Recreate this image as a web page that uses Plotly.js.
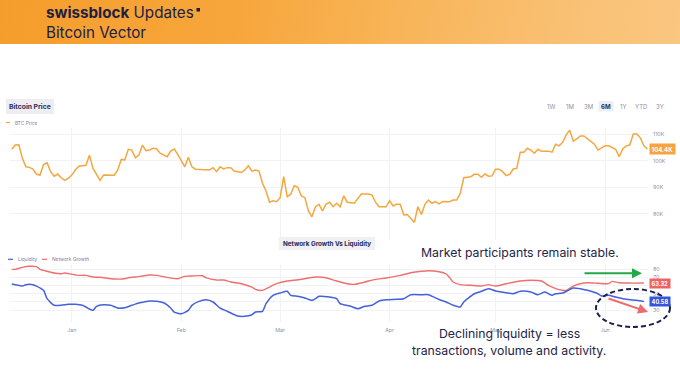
<!DOCTYPE html>
<html>
<head>
<meta charset="utf-8">
<script src="https://cdn.plot.ly/plotly-3.0.1.min.js"></script>
<style>
  html, body { margin: 0; padding: 0; background: #ffffff; }
  #chart { width: 680px; height: 383px; position: relative;
    background: linear-gradient(100deg, #f59d2c 0%, #f7a63c 35%, #f8b559 60%, #f9c176 85%, #fac680 100%) top left / 680px 44px no-repeat, #ffffff; }
</style>
</head>
<body>
<div id="chart"></div>
<script>
// ---------------- DATA ----------------
const priceDates = ['2024-12-15','2024-12-16','2024-12-17','2024-12-18','2024-12-19','2024-12-20','2024-12-21','2024-12-22','2024-12-23','2024-12-24','2024-12-25','2024-12-26','2024-12-27','2024-12-28','2024-12-29','2024-12-30','2024-12-31',
'2025-01-01','2025-01-02','2025-01-03','2025-01-05','2025-01-06','2025-01-07','2025-01-08','2025-01-09','2025-01-10','2025-01-13','2025-01-14','2025-01-15','2025-01-16','2025-01-17','2025-01-18','2025-01-19','2025-01-20','2025-01-21','2025-01-22','2025-01-23','2025-01-24','2025-01-25','2025-01-26','2025-01-27','2025-01-28','2025-01-29','2025-01-30','2025-01-31',
'2025-02-01','2025-02-02','2025-02-03','2025-02-04','2025-02-05','2025-02-09','2025-02-10','2025-02-11','2025-02-12','2025-02-13','2025-02-14','2025-02-15','2025-02-16','2025-02-18','2025-02-19','2025-02-20','2025-02-21','2025-02-22','2025-02-23','2025-02-24','2025-02-25','2025-02-26','2025-02-27','2025-02-28',
'2025-03-01','2025-03-02','2025-03-03','2025-03-04','2025-03-05','2025-03-06','2025-03-07','2025-03-08','2025-03-09','2025-03-10','2025-03-11','2025-03-12','2025-03-13','2025-03-14','2025-03-15','2025-03-16','2025-03-17','2025-03-18','2025-03-19','2025-03-20','2025-03-22','2025-03-23','2025-03-24','2025-03-26','2025-03-27','2025-03-28','2025-03-29','2025-03-31',
'2025-04-01','2025-04-02','2025-04-03','2025-04-04','2025-04-05','2025-04-06','2025-04-07','2025-04-08','2025-04-09','2025-04-10','2025-04-11','2025-04-12','2025-04-13','2025-04-14','2025-04-15','2025-04-16','2025-04-18','2025-04-19','2025-04-20','2025-04-21','2025-04-22','2025-04-23','2025-04-24','2025-04-25','2025-04-26','2025-04-27','2025-04-28','2025-04-29','2025-04-30',
'2025-05-01','2025-05-02','2025-05-03','2025-05-04','2025-05-05','2025-05-06','2025-05-07','2025-05-08','2025-05-09','2025-05-10','2025-05-11','2025-05-12','2025-05-13','2025-05-14','2025-05-16','2025-05-17','2025-05-18','2025-05-19','2025-05-20','2025-05-21','2025-05-22','2025-05-23','2025-05-24','2025-05-25','2025-05-26','2025-05-27','2025-05-29','2025-05-30','2025-05-31',
'2025-06-01','2025-06-02','2025-06-03','2025-06-04','2025-06-05','2025-06-06','2025-06-07','2025-06-08','2025-06-09','2025-06-10','2025-06-11','2025-06-12','2025-06-13'];
const priceK = [104.3,105.9,106.0,100.9,97.7,97.5,96.9,94.9,94.6,98.6,99.2,95.9,94.2,95.0,93.6,92.6,93.4,
94.6,96.5,97.9,98.3,102.1,97.1,94.9,92.6,94.6,94.5,96.5,100.5,100.3,104.3,104.0,101.1,102.1,105.9,103.8,104.0,104.7,104.5,102.8,102.1,101.5,103.6,104.4,102.4,
99.9,97.7,101.3,97.7,96.8,96.5,97.4,95.9,97.7,96.9,97.4,97.4,96.1,95.6,96.5,98.1,96.1,96.5,96.1,91.5,88.6,84.4,84.9,84.6,
86.1,94.0,86.5,87.4,90.6,90.0,86.8,86.1,81.1,78.9,82.7,83.6,81.1,83.7,84.4,82.7,84.0,82.7,86.8,84.4,84.0,85.6,87.5,87.5,87.1,84.4,82.7,82.7,
85.0,83.0,83.6,83.6,79.6,79.8,78.3,76.8,82.7,79.8,83.6,85.2,84.0,84.6,83.8,84.7,84.6,85.2,85.2,87.7,93.6,93.7,94.0,94.9,94.9,93.8,95.0,94.2,94.3,
96.8,96.8,95.9,94.4,94.9,96.9,97.1,103.2,103.2,104.7,104.0,102.8,104.3,103.6,103.6,103.2,106.2,105.6,106.9,109.7,111.5,107.4,108.2,109.3,109.3,108.2,106.2,104.0,104.7,
105.6,105.6,105.0,104.3,101.5,104.4,105.6,105.9,110.0,110.0,108.6,105.6,104.4];

const growthDates = ['2024-12-15','2024-12-16','2024-12-18','2024-12-20','2024-12-22','2024-12-23','2024-12-25','2024-12-27','2024-12-29','2024-12-30',
'2025-01-01','2025-01-03','2025-01-05','2025-01-07','2025-01-09','2025-01-13','2025-01-16','2025-01-17','2025-01-19','2025-01-21','2025-01-23','2025-01-25','2025-01-27','2025-01-29','2025-01-31',
'2025-02-02','2025-02-04','2025-02-07','2025-02-08','2025-02-11','2025-02-13','2025-02-15','2025-02-18','2025-02-21','2025-02-22','2025-02-24','2025-02-26','2025-02-28',
'2025-03-03','2025-03-06','2025-03-09','2025-03-11','2025-03-14','2025-03-17','2025-03-20','2025-03-22','2025-03-25','2025-03-28','2025-03-31',
'2025-04-04','2025-04-07','2025-04-10','2025-04-12','2025-04-15','2025-04-17','2025-04-18','2025-04-19','2025-04-21','2025-04-24','2025-04-27','2025-04-29',
'2025-05-01','2025-05-04','2025-05-08','2025-05-11','2025-05-14','2025-05-16','2025-05-19','2025-05-21','2025-05-23','2025-05-25','2025-05-27','2025-05-30',
'2025-06-02','2025-06-03','2025-06-05','2025-06-08','2025-06-12'];
const growthValues = [80.2,80.2,82.7,84.0,83.6,80.2,77.8,75.7,74.8,75.7,
74.1,72.8,72.8,70.7,70.4,68.3,68.6,69.9,70.7,72.0,73.2,72.8,71.1,69.5,68.6,
71.6,72.0,72.3,69.9,67.0,67.0,64.6,62.5,58.4,55.6,54.3,58.4,62.5,
65.8,67.4,69.5,70.7,69.9,65.8,62.5,61.7,64.6,67.9,69.5,
72.8,76.0,77.8,78.5,77.3,74.5,70.0,64.6,61.3,60.5,59.6,61.3,
59.6,62.5,65.8,66.7,65.8,60.5,55.1,54.3,59.6,62.5,63.7,63.0,
62.5,65.4,63.7,63.3,63.32];

const liquidityDates = ['2024-12-15','2024-12-16','2024-12-18','2024-12-19','2024-12-21','2024-12-22','2024-12-24','2024-12-25','2024-12-27','2024-12-29','2024-12-31',
'2025-01-02','2025-01-04','2025-01-05','2025-01-07','2025-01-08','2025-01-10','2025-01-12','2025-01-14','2025-01-16','2025-01-18','2025-01-20','2025-01-23','2025-01-25','2025-01-27','2025-01-29','2025-01-30',
'2025-02-01','2025-02-03','2025-02-04','2025-02-06','2025-02-08','2025-02-10','2025-02-12','2025-02-14','2025-02-17','2025-02-19','2025-02-21','2025-02-22','2025-02-24','2025-02-25','2025-02-27',
'2025-03-01','2025-03-03','2025-03-04','2025-03-06','2025-03-08','2025-03-10','2025-03-11','2025-03-12','2025-03-15','2025-03-17','2025-03-18','2025-03-21','2025-03-23','2025-03-25','2025-03-27','2025-03-29','2025-03-31',
'2025-04-03','2025-04-05','2025-04-07','2025-04-10','2025-04-12','2025-04-15','2025-04-17','2025-04-19','2025-04-21','2025-04-22','2025-04-25','2025-04-27','2025-04-29',
'2025-05-01','2025-05-04','2025-05-06','2025-05-08','2025-05-11','2025-05-13','2025-05-15','2025-05-17','2025-05-18','2025-05-20','2025-05-23','2025-05-25','2025-05-27','2025-05-30','2025-05-31',
'2025-06-02','2025-06-04','2025-06-07','2025-06-10','2025-06-12'];
const liquidityValues = [62.1,61.3,59.6,61.3,61.3,59.6,54.3,44.0,35.8,35.8,37.0,
37.0,35.8,33.7,29.6,34.6,36.6,35.8,32.5,32.9,35.8,38.6,41.1,40.8,39.0,32.5,27.5,
25.4,29.6,35.8,40.7,42.7,39.9,32.3,28.5,22.6,22.2,24.2,27.5,28.4,37.8,48.1,
51.0,53.1,48.1,46.9,44.8,42.0,44.0,46.9,46.0,44.0,37.8,34.6,31.6,34.6,35.8,41.1,42.7,
43.2,44.0,48.9,48.9,48.9,43.0,39.9,35.8,33.7,39.9,50.1,53.1,56.3,
53.5,51.4,50.1,53.1,52.2,48.9,52.2,48.1,50.1,51.0,57.2,56.3,54.3,50.1,47.3,
48.1,46.0,43.2,42.0,40.58];

const priceTicks = [80, 90, 100, 110];
const priceTickText = ['80K', '90K', '100K', '110K'];
const lowerTicks = [30, 40, 50, 60, 70, 80];
const lowerTickText = ['30', '', '50', '', '70', '80'];   // 40 and 60 sit under the value badges
const rangeButtons = ['1W', '1M', '3M', '6M', '1Y', 'YTD', '3Y'];
const lastPriceLabel = '104.4K';
const lastGrowthLabel = '63.32';
const lastLiquidityLabel = '40.58';

// ---------------- LAYOUT HELPERS ----------------
const W = 680, H = 383;
const px = x => x / W;
const py = y => 1 - y / H;
const FONT = 'Inter, "Noto Sans", sans-serif';
const NAVY = '#1c2044';
const TICKC = '#8a90a8';
const GRID = '#f1f2f6';

const ORANGE = '#f4a73f';
const RED = '#ef6f6f';
const BLUE = '#4560d9';

const xRange = ['2024-12-14 12:00', '2025-06-13 04:00'];

const traces = [
  { x: priceDates, y: priceK, type: 'scatter', mode: 'lines', xaxis: 'x', yaxis: 'y',
    line: { color: ORANGE, width: 1.5 }, name: 'BTC Price', showlegend: false },
  { x: growthDates, y: growthValues, type: 'scatter', mode: 'lines', xaxis: 'x2', yaxis: 'y2',
    line: { color: RED, width: 1.4, shape: 'spline', smoothing: 0.6 }, name: 'Network Growth', showlegend: false },
  { x: liquidityDates, y: liquidityValues, type: 'scatter', mode: 'lines', xaxis: 'x2', yaxis: 'y2',
    line: { color: BLUE, width: 1.5, shape: 'spline', smoothing: 0.6 }, name: 'Liquidity', showlegend: false }
];

const ann = [];
const shapes = [];

// Header (two lines in one text block)
ann.push({ xref: 'paper', yref: 'paper', x: px(44), y: py(22.5), xanchor: 'left', yanchor: 'middle', align: 'left', showarrow: false,
  text: '<b>swissblock</b> Updates<br>Bitcoin Vector', font: { family: FONT, size: 15.2, color: NAVY } });
shapes.push({ type: 'rect', xref: 'paper', yref: 'paper', x0: px(196.5), x1: px(200), y0: py(11.5), y1: py(8), fillcolor: NAVY, line: { width: 0 } });

// Bitcoin Price button
shapes.push({ type: 'rect', xref: 'paper', yref: 'paper', x0: px(6), x1: px(54), y0: py(114), y1: py(99), fillcolor: '#ededf3', line: { width: 0 }, layer: 'below' });
ann.push({ xref: 'paper', yref: 'paper', x: px(30), y: py(106.5), xanchor: 'center', yanchor: 'middle', showarrow: false,
  text: '<b>Bitcoin Price</b>', font: { family: FONT, size: 6.8, color: '#2a2f58' } });

// Range buttons
const rbX = [551, 570, 588, 606, 623, 641, 660];
shapes.push({ type: 'rect', xref: 'paper', yref: 'paper', x0: px(598.5), x1: px(613.5), y0: py(111.5), y1: py(101), fillcolor: '#eceef6', line: { width: 0 }, layer: 'below' });
rangeButtons.forEach((b, i) => {
  ann.push({ xref: 'paper', yref: 'paper', x: px(rbX[i]), y: py(106.3), xanchor: 'center', yanchor: 'middle', showarrow: false,
    text: b === '6M' ? '<b>' + b + '</b>' : b, font: { family: FONT, size: 6, color: b === '6M' ? '#2a2f58' : TICKC } });
});

// Top legend
shapes.push({ type: 'line', xref: 'paper', yref: 'paper', x0: px(6), x1: px(10), y0: py(122.5), y1: py(122.5), line: { color: ORANGE, width: 1.2 } });
ann.push({ xref: 'paper', yref: 'paper', x: px(13), y: py(122.5), xanchor: 'left', yanchor: 'middle', showarrow: false,
  text: 'BTC Price', font: { family: FONT, size: 4.8, color: '#7c82a0' } });

// Lower title box
shapes.push({ type: 'rect', xref: 'paper', yref: 'paper', x0: px(279), x1: px(375), y0: py(250), y1: py(237), fillcolor: '#efeff4', line: { width: 0 } });
ann.push({ xref: 'paper', yref: 'paper', x: px(327), y: py(243.5), xanchor: 'center', yanchor: 'middle', showarrow: false,
  text: '<b>Network Growth Vs Liquidity</b>', font: { family: FONT, size: 6.3, color: '#23284f' } });

// Lower legend
shapes.push({ type: 'line', xref: 'paper', yref: 'paper', x0: px(8), x1: px(13), y0: py(259.3), y1: py(259.3), line: { color: BLUE, width: 1.2 } });
ann.push({ xref: 'paper', yref: 'paper', x: px(16), y: py(259.3), xanchor: 'left', yanchor: 'middle', showarrow: false,
  text: 'Liquidity', font: { family: FONT, size: 4.8, color: '#7c82a0' } });
shapes.push({ type: 'line', xref: 'paper', yref: 'paper', x0: px(42), x1: px(47), y0: py(259.3), y1: py(259.3), line: { color: RED, width: 1.2 } });
ann.push({ xref: 'paper', yref: 'paper', x: px(50), y: py(259.3), xanchor: 'left', yanchor: 'middle', showarrow: false,
  text: 'Network Growth', font: { family: FONT, size: 4.8, color: '#7c82a0' } });

// Last-value labels
ann.push({ xref: 'paper', yref: 'y', x: px(649), y: priceK[priceK.length - 1], xanchor: 'left', yanchor: 'middle', showarrow: false,
  text: '<b>' + lastPriceLabel + '</b>', bgcolor: '#f5a53b', borderpad: 1.6, font: { family: FONT, size: 6, color: '#ffffff' } });
ann.push({ xref: 'paper', yref: 'y2', x: px(649), y: growthValues[growthValues.length - 1], xanchor: 'left', yanchor: 'middle', showarrow: false,
  text: '<b>' + lastGrowthLabel + '</b>', bgcolor: '#ef6262', borderpad: 1.6, font: { family: FONT, size: 5.6, color: '#ffffff' } });
ann.push({ xref: 'paper', yref: 'y2', x: px(649), y: liquidityValues[liquidityValues.length - 1], xanchor: 'left', yanchor: 'middle', showarrow: false,
  text: '<b>' + lastLiquidityLabel + '</b>', bgcolor: '#3556dc', borderpad: 1.6, font: { family: FONT, size: 5.6, color: '#ffffff' } });

// Commentary text
ann.push({ xref: 'paper', yref: 'paper', x: px(520), y: py(252.5), xanchor: 'center', yanchor: 'middle', showarrow: false,
  text: 'Market participants remain stable.', font: { family: FONT, size: 12.3, color: '#1e2349' } });
ann.push({ xref: 'paper', yref: 'paper', x: px(509), y: py(333), xanchor: 'center', yanchor: 'middle', showarrow: false,
  text: 'Declining liquidity = less', font: { family: FONT, size: 12.3, color: '#1e2349' } });
ann.push({ xref: 'paper', yref: 'paper', x: px(509), y: py(350), xanchor: 'center', yanchor: 'middle', showarrow: false,
  text: 'transactions, volume and activity.', font: { family: FONT, size: 12.3, color: '#1e2349' } });

// Arrows
ann.push({ xref: 'paper', yref: 'paper', x: px(642), y: py(273.3), ax: -59, ay: 0, axref: 'pixel', ayref: 'pixel',
  showarrow: true, arrowhead: 2, arrowsize: 1, arrowwidth: 2, arrowcolor: '#23a846', text: '' });
ann.push({ xref: 'paper', yref: 'paper', x: px(648), y: py(312), ax: -41, ay: -14, axref: 'pixel', ayref: 'pixel',
  showarrow: true, arrowhead: 2, arrowsize: 1, arrowwidth: 2, arrowcolor: '#ef6a68', text: '' });

// Dashed ellipse
shapes.push({ type: 'circle', xref: 'paper', yref: 'paper', x0: px(596), x1: px(670), y0: py(327), y1: py(289),
  line: { color: '#1b2150', width: 2, dash: '5px,3px' }, fillcolor: 'rgba(0,0,0,0)' });

const layout = {
  width: W, height: H,
  margin: { l: 0, r: 0, t: 0, b: 0 },
  paper_bgcolor: 'rgba(0,0,0,0)',
  plot_bgcolor: 'rgba(0,0,0,0)',
  showlegend: false,
  hovermode: false,
  xaxis: { domain: [px(10), px(648)], range: xRange, type: 'date', anchor: 'y',
    showticklabels: false, showgrid: true, gridcolor: GRID, gridwidth: 1,
    tick0: '2025-01-01', dtick: 'M1', zeroline: false, showline: false, ticks: '' },
  yaxis: { domain: [py(240), py(128)], range: [70.2, 112.3], side: 'right', anchor: 'x',
    tickmode: 'array', tickvals: priceTicks, ticktext: priceTickText, showgrid: true, gridcolor: GRID, zeroline: false,
    tickfont: { family: FONT, size: 5.3, color: TICKC }, ticklabelstandoff: 4 },
  xaxis2: { domain: [px(10), px(648)], range: xRange, type: 'date', anchor: 'y2',
    showgrid: true, gridcolor: GRID, tick0: '2025-01-01', dtick: 'M1', tickformat: '%b',
    tickfont: { family: FONT, size: 5.3, color: TICKC }, zeroline: false, showline: false, ticks: '',
    ticklabelstandoff: 4 },
  yaxis2: { domain: [py(322), py(265)], range: [15.2, 85.6], side: 'right', anchor: 'x2',
    tickmode: 'array', tickvals: lowerTicks, ticktext: lowerTickText, showgrid: true, gridcolor: GRID, zeroline: false,
    tickfont: { family: FONT, size: 5.3, color: TICKC }, ticklabelstandoff: 4 },
  annotations: ann,
  shapes: shapes
};

Plotly.newPlot('chart', traces, layout, { staticPlot: true, displayModeBar: false });
</script>
</body>
</html>
